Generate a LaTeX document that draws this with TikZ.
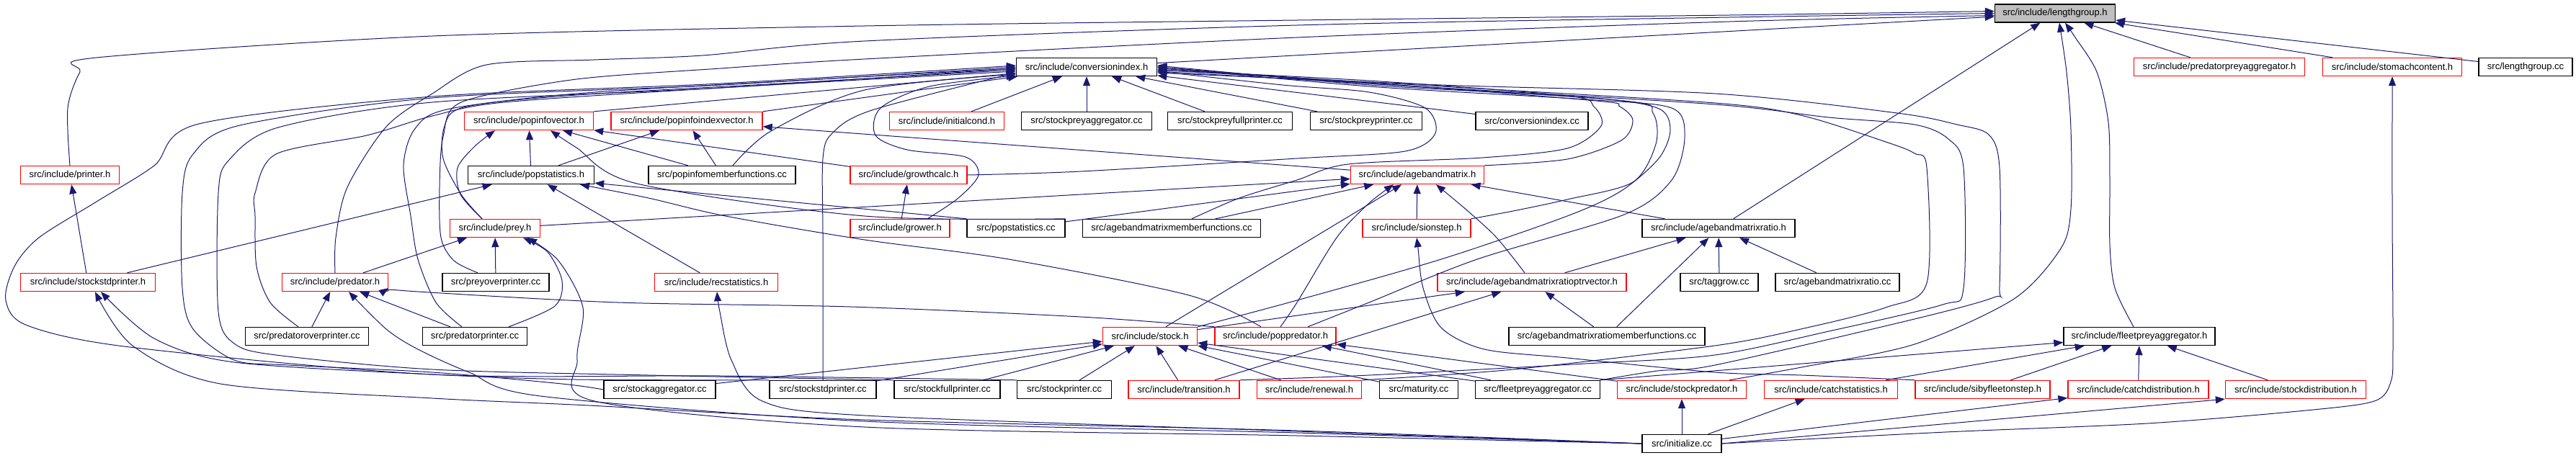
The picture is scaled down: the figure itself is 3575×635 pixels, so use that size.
\documentclass[tikz,border=0pt]{standalone}
\usepackage{fontspec}
\setmainfont{Liberation Sans}
\usetikzlibrary{arrows.meta,calc}
\definecolor{mblue}{HTML}{191970}
\begin{document}
\begin{tikzpicture}[x=1pt,y=-1pt,
  nb/.style={rectangle, minimum height=25pt, inner sep=0pt, line width=1.4pt, font=\fontsize{13}{15}\selectfont},
  rb/.style={nb, draw=red},
  kb/.style={nb, draw=black},
  gb/.style={nb, draw=black, fill=black!25},
  e/.style={draw=mblue, line width=1pt, -{Triangle[length=13pt,width=10pt]}}]
\useasboundingbox (0,0) rectangle (3575,635);
% row 0
\node[gb, minimum width=167pt] (lg) at (2852,18.5) {src/include/lengthgroup.h};
% row 1
\node[kb, minimum width=195pt] (ci) at (1508,93) {src/include/conversionindex.h};
\node[rb, minimum width=237pt] (ppa) at (3080,93) {src/include/predatorpreyaggregator.h};
\node[rb, minimum width=193pt] (sc) at (3320,93) {src/include/stomachcontent.h};
\node[kb, minimum width=130pt] (lgcc) at (3505,93) {src/lengthgroup.cc};
% row 2
\node[rb, minimum width=179pt] (piv) at (734,168) {src/include/popinfovector.h};
\node[rb, minimum width=210pt] (piiv) at (953,168) {src/include/popinfoindexvector.h};
\node[rb, minimum width=159pt] (ic) at (1314,168) {src/include/initialcond.h};
\node[kb, minimum width=181pt] (spa) at (1508,168) {src/stockpreyaggregator.cc};
\node[kb, minimum width=173pt] (spfp) at (1707,168) {src/stockpreyfullprinter.cc};
\node[kb, minimum width=155pt] (spp) at (1896,168) {src/stockpreyprinter.cc};
\node[kb, minimum width=156pt] (cicc) at (2126,168) {src/conversionindex.cc};
% row 3
\node[rb, minimum width=137pt] (pr) at (97,243) {src/include/printer.h};
\node[kb, minimum width=175pt] (ps) at (737,243) {src/include/popstatistics.h};
\node[kb, minimum width=204pt] (pimf) at (1002,243) {src/popinfomemberfunctions.cc};
\node[rb, minimum width=162pt] (gc) at (1261,243) {src/include/growthcalc.h};
\node[rb, minimum width=185pt] (abm) at (1967,243) {src/include/agebandmatrix.h};
% row 4
\node[rb, minimum width=125pt] (prey) at (687,317) {src/include/prey.h};
\node[rb, minimum width=138pt] (gr) at (1249,317) {src/include/grower.h};
\node[kb, minimum width=136pt] (pscc) at (1410,317) {src/popstatistics.cc};
\node[kb, minimum width=247pt] (abmmf) at (1626,317) {src/agebandmatrixmemberfunctions.cc};
\node[rb, minimum width=150pt] (sion) at (1966,317) {src/include/sionstep.h};
\node[kb, minimum width=212pt] (abmr) at (2385,317) {src/include/agebandmatrixratio.h};
% row 5
\node[rb, minimum width=187pt] (ssph) at (122,392) {src/include/stockstdprinter.h};
\node[rb, minimum width=147pt] (pred) at (465,392) {src/include/predator.h};
\node[kb, minimum width=148pt] (pop) at (688,392) {src/preyoverprinter.cc};
\node[rb, minimum width=171pt] (rec) at (994,392) {src/include/recstatistics.h};
\node[rb, minimum width=262pt] (abmrpv) at (2126,392) {src/include/agebandmatrixratioptrvector.h};
\node[kb, minimum width=108pt] (tg) at (2386,392) {src/taggrow.cc};
\node[kb, minimum width=172pt] (abmrcc) at (2550,392) {src/agebandmatrixratio.cc};
% row 6
\node[kb, minimum width=171pt] (pop2) at (426,467) {src/predatoroverprinter.cc};
\node[kb, minimum width=145pt] (predp) at (659,467) {src/predatorprinter.cc};
\node[rb, minimum width=131pt] (stock) at (1596,467) {src/include/stock.h};
\node[rb, minimum width=168pt] (pp) at (1770,467) {src/include/poppredator.h};
\node[kb, minimum width=272pt] (abmrmf) at (2230,467) {src/agebandmatrixratiomemberfunctions.cc};
\node[kb, minimum width=210pt] (fpa) at (2969,467) {src/include/fleetpreyaggregator.h};
% row 7
\node[kb, minimum width=155pt] (sagg) at (915.5,541) {src/stockaggregator.cc};
\node[kb, minimum width=148pt] (sspcc) at (1142,541) {src/stockstdprinter.cc};
\node[kb, minimum width=147pt] (sfp) at (1314.5,541) {src/stockfullprinter.cc};
\node[kb, minimum width=131pt] (sp) at (1477,541) {src/stockprinter.cc};
\node[rb, minimum width=154pt] (tr) at (1643,541) {src/include/transition.h};
\node[rb, minimum width=145pt] (ren) at (1817,541) {src/include/renewal.h};
\node[kb, minimum width=109pt] (mat) at (1969,541) {src/maturity.cc};
\node[kb, minimum width=173pt] (fpacc) at (2134,541) {src/fleetpreyaggregator.cc};
\node[rb, minimum width=179pt] (spred) at (2334,541) {src/include/stockpredator.h};
\node[rb, minimum width=185pt] (cs) at (2541,541) {src/include/catchstatistics.h};
\node[rb, minimum width=187pt] (sib) at (2751.5,541) {src/include/sibyfleetonstep.h};
\node[rb, minimum width=195pt] (cd) at (2967.5,541) {src/include/catchdistribution.h};
\node[rb, minimum width=195pt] (sd) at (3186,541) {src/include/stockdistribution.h};
% row 8
\node[kb, minimum width=110pt] (init) at (2334,616) {src/initialize.cc};

% helper coordinates
\coordinate (prey-t) at ($(prey.north)+(-18,0)$);
\coordinate (pop-t) at ($(pop.north)+(-25,0)$);
\coordinate (predp-t) at ($(predp.north)+(-18,0)$);
\coordinate (predp-t2) at ($(predp.north)+(47,0)$);
\coordinate (pop2-t) at ($(pop2.north)+(-12,0)$);
\coordinate (pimf-t) at ($(pimf.north)+(15,0)$);
\coordinate (gr-t) at ($(gr.north)+(38,0)$);
\coordinate (abmmf-t) at ($(abmmf.north)+(28,0)$);
\coordinate (pp-t1) at ($(pp.north)+(45,0)$);
\coordinate (pp-t2) at ($(pp.north)+(7,0)$);
\coordinate (pp-t3) at ($(pp.north)+(-20,0)$);
\coordinate (abmrpv-t) at ($(abmrpv.north)+(-10,0)$);
\coordinate (fpa-t) at ($(fpa.north)+(-8,0)$);
\coordinate (spred-t) at ($(spred.north)+(66,0)$);
\coordinate (lg-w1) at ($(lg.west)+(0,-3)$);
\coordinate (lg-w2) at ($(lg.west)+(0,0)$);
\coordinate (lg-w3) at ($(lg.west)+(0,3)$);
\coordinate (lg-s1) at ($(lg.south)+(14,0)$);
\coordinate (lg-s2) at ($(lg.south)+(6,0)$);
\foreach \k in {-2,0,2,4,6,8,10,12} {
  \coordinate (ciw\k) at ($(ci.west)+(0,\k)$);
  \coordinate (cie\k) at ($(ci.east)+(0,\k)$);
}
\coordinate (piv-s1) at ($(piv.south)+(-47,0)$);
\coordinate (piv-s2) at ($(piv.south)+(30,0)$);
\coordinate (ps-s1) at ($(ps.south)+(68,0)$);
\coordinate (ps-se) at ($(ps.south east)+(0,-2)$);
\coordinate (pred-e) at ($(pred.east)+(0,8)$);
\coordinate (pred-s) at ($(pred.south)+(19,0)$);
\coordinate (prey-s1) at ($(prey.south)+(39,0)$);
\coordinate (prey-s2) at ($(prey.south)+(45,0)$);
\coordinate (rec-s) at ($(rec.south)+(1,0)$);
\coordinate (ssph-s1) at ($(ssph.south)+(18,0)$);
\coordinate (ssph-s2) at ($(ssph.south)+(10,0)$);
\coordinate (abm-s1) at ($(abm.south)+(26,0)$);
\coordinate (abm-s2) at ($(abm.south)+(-33,0)$);

% ---- into lengthgroup.h
\draw[e] (ci) -- (lg);
\draw[e] plot[smooth,tension=0.5] coordinates {(pr.north) (94,150) (111,100) (134,80) (600,50) (1200,36) (1800,28) (2400,21) (lg-w1)};
\draw[e] plot[smooth,tension=0.5] coordinates {(pred.north) (466,330) (482,260) (536,176) (600,130) (675,90) (825,83) (975,77) (1200,57) (1800,35) (2400,24) (lg-w2)};
\draw[e] plot[smooth,tension=0.5] coordinates {(prey-t) (640,270) (615,220) (617,175) (645,140) (800,110) (1000,95) (1200,82) (1800,52) (2400,30) (lg-w3)};
\draw[e] (abmr) -- (lg);
\draw[e] plot[smooth,tension=0.5] coordinates {(fpa-t) (2935,400) (2928,340) (2928,250) (2926,170) (2910,100) (2880,52) (lg-s1)};
\draw[e] plot[smooth,tension=0.5] coordinates {(spred-t) (2500,510) (2657,478) (2795,415) (2860,345) (2874,290) (2874,180) (2868,100) (lg-s2)};
\draw[e] (ppa) -- (lg);
\draw[e] (sc) -- (lg);
\draw[e] (lgcc) -- (lg);

% ---- into conversionindex.h (below / left)
\draw[e] (ic) -- (ci);
\draw[e] (spa) -- (ci);
\draw[e] (spfp) -- (ci);
\draw[e] (spp) -- (ci);
\draw[e] (cicc) -- (ci);
\draw[e] (piv.north east) -- (ci);
\draw[e] (piiv.north east) -- (ci);
\draw[e] plot[smooth,tension=0.5] coordinates {(pimf-t) (1070,182) (1200,125) (ciw10)};
\draw[e] plot[smooth,tension=0.5] coordinates {(gr-t) (1330,275) (1358,243) (1340,218) (1259,208) (1215,188) (1222,150) (1290,120) (ciw12)};
\draw[e] plot[smooth,tension=0.5] coordinates {(sspcc.north) (1142,330) (1142,220) (1155,185) (1210,153) (ciw8)};
\draw[e] plot[smooth,tension=0.5] coordinates {(pop-t) (630,362) (612,330) (610,260) (615,190) (640,150) (800,132) (1100,115) (ciw4)};
\draw[e] plot[smooth,tension=0.5] coordinates {(predp-t) (605,420) (580,360) (570,300) (560,230) (575,180) (620,152) (800,130) (1100,112) (ciw2)};
\draw[e] plot[smooth,tension=0.5] coordinates {(pop2-t) (375,420) (356,370) (354,300) (354,268) (383,214) (509,188) (600,161) (700,142) (1000,122) (ciw6)};
\draw[e] plot[smooth,tension=0.5] coordinates {(sagg.west) (780,533) (600,517) (400,507) (325,500) (268,457) (253,400) (253,268) (268,214) (333,174) (600,136) (1000,118) (ciw0)};
\draw[e] plot[smooth,tension=0.5] coordinates {(sfp.north west) (900,521) (600,513) (383,493) (325,477) (303,433) (303,268) (318,222) (386,177) (600,142) (1000,122) (ciw2)};
\draw[e] plot[smooth,tension=0.5] coordinates {(sp.north west) (1000,522) (600,520) (180,482) (38,452) (8,417) (20,370) (54,330) (134,280) (214,230) (276,172) (600,134) (1000,116) (ciw-2)};

% ---- into conversionindex.h (right loops)
\draw[e] plot[smooth,tension=0.5] coordinates {(gc.east) (1500,238) (1800,220) (1950,210) (1992,185) (1978,150) (1900,128) (1780,118) (cie6)};
\draw[e] plot[smooth,tension=0.5] coordinates {(abmmf-t) (1720,275) (1800,250) (1871,228) (2057,219) (2175,206) (2222,175) (2212,148) (2175,133) (1900,112) (cie4)};
\draw[e] plot[smooth,tension=0.5] coordinates {(abm.north east) (2175,221) (2250,195) (2266,167) (2248,148) (2215,140) (1900,115) (cie2)};
\draw[e] plot[smooth,tension=0.5] coordinates {(sion.north east) (2100,293) (2175,277) (2266,253) (2298,200) (2294,157) (2254,140) (1900,116) (cie0)};
\draw[e] plot[smooth,tension=0.5] coordinates {(stock.north east) (1800,417) (2000,360) (2175,300) (2250,265) (2302,220) (2318,180) (2300,150) (2200,135) (1900,118) (cie-2)};
\draw[e] plot[smooth,tension=0.5] coordinates {(pp-t1) (1900,420) (2050,360) (2254,298) (2320,250) (2338,190) (2320,150) (2200,138) (1900,120) (cie0)};
\draw[e] plot[smooth,tension=0.5] coordinates {(ren.north east) (2100,513) (2380,480) (2499,457) (2617,427) (2674,393) (2674,233) (2657,213) (2617,197) (2499,160) (2380,143) (2000,120) (cie4)};
\draw[e] plot[smooth,tension=0.5] coordinates {(tr.north east) (1900,521) (2200,505) (2380,493) (2538,460) (2696,423) (2725,400) (2725,233) (2704,193) (2657,173) (2538,163) (2380,145) (2000,122) (cie6)};
\draw[e] plot[smooth,tension=0.5] coordinates {(fpacc.north east) (2300,515) (2380,507) (2657,443) (2767,413) (2775,397) (2775,233) (2760,187) (2716,173) (2633,157) (2380,130) (2000,118) (cie8)};

% ---- popinfovector / popinfoindexvector / growthcalc
\draw[e] (gr) -- (gc);
\draw[e] (gc) -- (piv);
\draw[e] plot[smooth,tension=0.5] coordinates {(prey-t) (639,270) (635,233) (659,203) (piv-s1)};
\draw[e] (ps) -- (piv);
\draw[e] (ps) -- (piiv);
\draw[e] (pimf) -- (piv);
\draw[e] (pimf) -- (piiv);
\draw[e] (abm) -- (piiv);
\draw[e] plot[smooth,tension=0.5] coordinates {(pscc.north east) (1200,300) (884,255) (800,205) (piv-s2)};

% ---- popstatistics.h
\draw[e] (pscc.north west) -- (ps-se);
\draw[e] plot[smooth,tension=0.5] coordinates {(pp-t3) (1650,410) (1400,360) (1200,333) (1007,300) (900,275) (ps-s1)};
\draw[e] (rec) -- (ps);
\draw[e] (ssph) -- (ps);

% ---- printer / stockstdprinter
\draw[e] (ssph) -- (pr);
\draw[e] plot[smooth,tension=0.5] coordinates {(sspcc.north west) (800,527) (600,520) (325,503) (214,470) (ssph-s1)};
\draw[e] plot[smooth,tension=0.5] coordinates {(init.west) (1800,598) (1200,583) (817,563) (600,553) (306,533) (184,480) (ssph-s2)};

% ---- predator.h
\draw[e] (pop2) -- (pred);
\draw[e] (predp) -- (pred);
\draw[e] plot[smooth,tension=0.5] coordinates {(init.west) (1800,601) (1200,585) (750,550) (651,517) (580,485) (536,457) (pred-s)};
\draw[e] plot[smooth,tension=0.5] coordinates {(pp.north west) (1500,440) (1180,426) (857,420) (580,405) (pred-e)};

% ---- prey.h
\draw[e] (pred) -- (prey);
\draw[e] (pop) -- (prey);
\draw[e] plot[smooth,tension=0.5] coordinates {(predp-t2) (770,425) (780,390) (760,350) (prey-s1)};
\draw[e] plot[smooth,tension=0.5] coordinates {(init.west) (1800,605) (1200,593) (825,557) (801,500) (809,427) (775,362) (prey-s2)};

% ---- recstatistics.h
\draw[e] plot[smooth,tension=0.5] coordinates {(init.west) (1800,599) (1200,577) (1058,557) (1015,500) (999,433) (rec-s)};

% ---- agebandmatrix.h
\draw[e] (prey) -- (abm);
\draw[e] (pscc) -- (abm);
\draw[e] (abmmf) -- (abm);
\draw[e] (sion) -- (abm);
\draw[e] (abmr) -- (abm);
\draw[e] (stock) -- (abm);
\draw[e] plot[smooth,tension=0.5] coordinates {(abmrpv-t) (2077,330) (2037,293) (abm-s1)};
\draw[e] plot[smooth,tension=0.5] coordinates {(pp-t2) (1800,420) (1855,330) (1899,283) (abm-s2)};

% ---- sionstep.h
\draw[e] plot[smooth,tension=0.5] coordinates {(sib.north west) (2500,521) (2380,517) (2175,497) (2060,485) (2000,455) (1975,400) (1968,345) (sion.south)};

% ---- agebandmatrixratio / ptrvector
\draw[e] (abmrpv) -- (abmr);
\draw[e] (abmrmf) -- (abmrpv);
\draw[e] (abmrmf) -- (abmr);
\draw[e] (tg) -- (abmr);
\draw[e] (abmrcc) -- (abmr);
\draw[e] (stock) -- (abmrpv);
\draw[e] (tr) -- (abmrpv);

% ---- stock.h
\draw[e] (sagg) -- (stock);
\draw[e] (sspcc) -- (stock);
\draw[e] (sfp) -- (stock);
\draw[e] (sp) -- (stock);
\draw[e] (tr) -- (stock);
\draw[e] (ren) -- (stock);
\draw[e] (mat) -- (stock);
\draw[e] (fpacc) -- (stock);

% ---- poppredator.h
\draw[e] (fpacc) -- (pp);
\draw[e] (spred) -- (pp);

% ---- fleetpreyaggregator.h
\draw[e] (fpacc.north east) -- (fpa);
\draw[e] (cs) -- (fpa);
\draw[e] (sib) -- (fpa);
\draw[e] (cd) -- (fpa);
\draw[e] (sd) -- (fpa);

% ---- initialize.cc
\draw[e] (init) -- (spred);
\draw[e] (init) -- (cs);
\draw[e] (init) -- (cd);
\draw[e] (init.east) -- (sd.south west);
\draw[e] plot[smooth,tension=0.5] coordinates {(init.east) (2700,600) (2980,588) (3200,570) (3295,557) (3318,530) (3321,480) (3320,300) (sc.south)};
\end{tikzpicture}
\end{document}
